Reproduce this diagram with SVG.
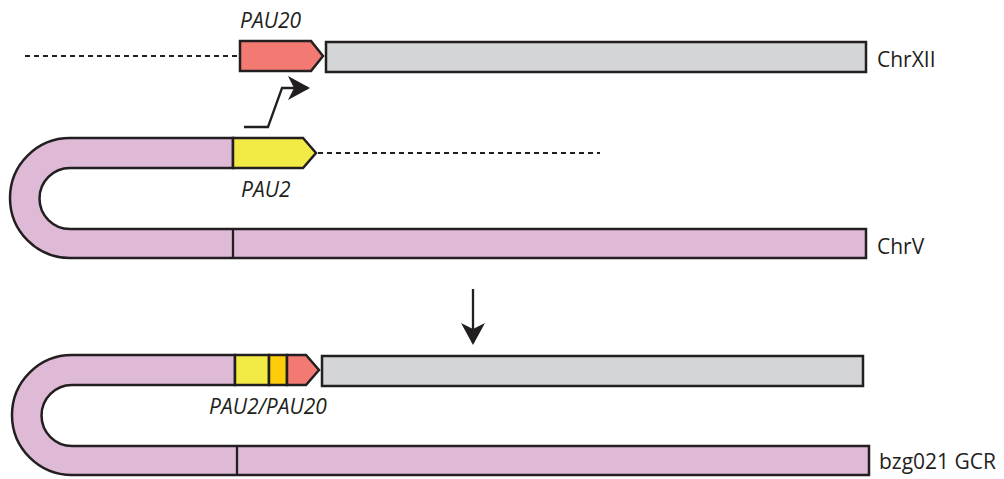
<svg xmlns="http://www.w3.org/2000/svg" width="1004" height="479" viewBox="0 0 1004 479">
<style>
.s{stroke:#231f20;stroke-width:2.5;stroke-linejoin:miter}
.pink{fill:#dfbad7}.gray{fill:#d4d5d6}.red{fill:#f27a72}.yel{fill:#f3eb45}.org{fill:#fdcc0b}
.ln{stroke:#231f20;stroke-width:2.3;fill:none}
.dash{stroke:#231f20;stroke-width:2;stroke-dasharray:5 4;fill:none}
.lab{font-family:"Open Sans","Liberation Sans",sans-serif;font-size:21px;fill:#231f20}
.it{font-style:italic}
</style>
<defs>
<marker id="ah" viewBox="0 0 22 24" refX="20" refY="12" markerWidth="22" markerHeight="24" markerUnits="userSpaceOnUse" orient="auto">
<path d="M0 0 L22 12 L0 24 L6 12 Z" fill="#231f20"/>
</marker>
</defs>
<g id="chrXII">
<rect class="s gray" x="326" y="42" width="540" height="30"/>
<text class="lab" x="877" y="67">ChrXII</text>
</g>
<g id="PAU20">
<path class="s red" d="M240 41 H311 L323 56 L311 71 H240 Z"/>
<text class="lab it" x="240" y="28">PAU20</text>
</g>
<g id="chrV">
<path class="s pink" d="M233 138 H70 A60 60 0 0 0 70 258 H866 V229 H70 A30.5 30.5 0 0 1 70 168 H233 Z"/>
<line class="ln" x1="233" y1="229" x2="233" y2="258"/>
<text class="lab" x="877" y="254">ChrV</text>
</g>
<g id="PAU2">
<path class="s yel" d="M233 138 H303 L316 153 L303 168 H233 Z"/>
<text class="lab it" x="241" y="197">PAU2</text>
</g>
<g id="gcr">
<path class="s pink" d="M235 355 H72 A60 60 0 0 0 72 475 H869 V446 H72 A30.5 30.5 0 0 1 72 385 H235 Z"/>
<line class="ln" x1="237" y1="446" x2="237" y2="475"/>
<rect class="s gray" x="322" y="356" width="541" height="30"/>
<rect class="s yel" x="235" y="355" width="34" height="30"/>
<rect class="s org" x="269" y="355" width="18" height="30"/>
<path class="s red" d="M287 355 H306 L319 370 L306 385 H287 Z"/>
<text class="lab it" x="209" y="414">PAU2/PAU20</text>
<text class="lab" x="879" y="469">bzg021 GCR</text>
</g>
<g id="connectors">
<line class="dash" x1="25" y1="56" x2="239" y2="56"/>
<line class="dash" x1="318" y1="153" x2="600" y2="153"/>
<polyline class="ln" points="244,127 268,127 282,88 308,88" marker-end="url(#ah)"/>
<line class="ln" x1="473" y1="289" x2="473" y2="343" marker-end="url(#ah)"/>
</g>
</svg>
